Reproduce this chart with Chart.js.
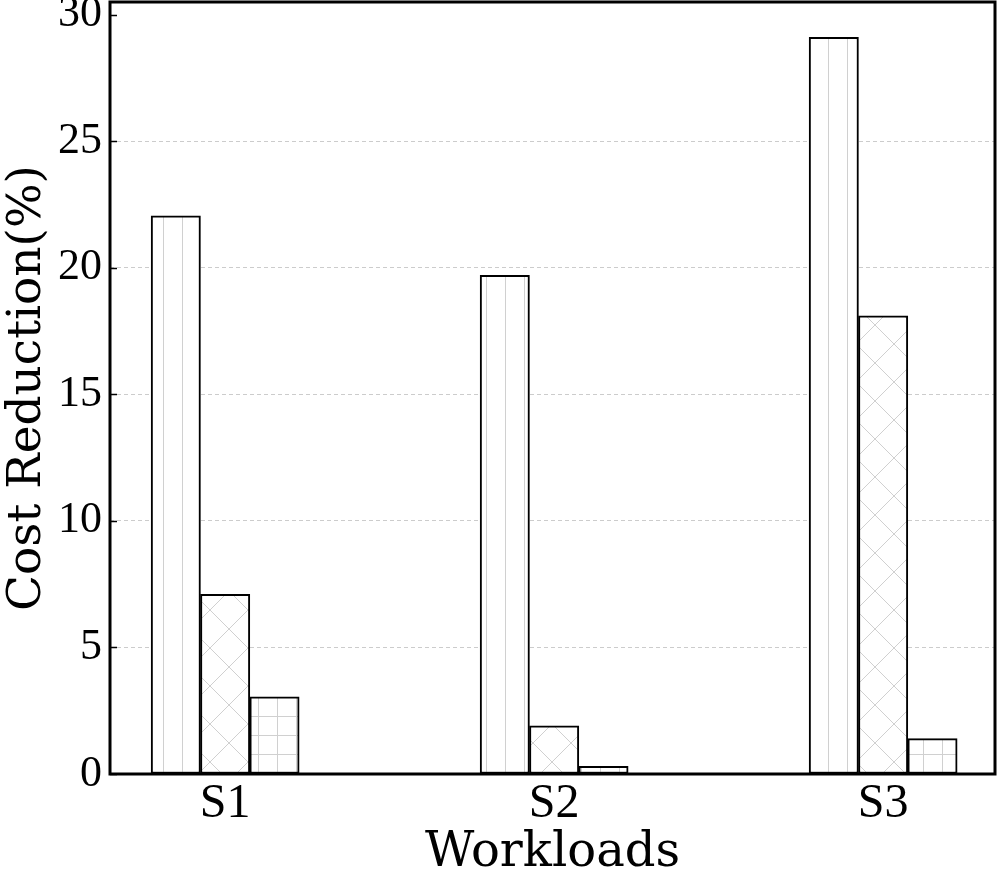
<!DOCTYPE html>
<html>
<head>
<meta charset="utf-8">
<title>Cost Reduction</title>
<script src="https://cdn.jsdelivr.net/npm/chart.js@4.4.1/dist/chart.umd.min.js"></script>
<style>
    html, body { margin: 0; padding: 0; background: #fff; }
    canvas { display: block; }
</style>
</head>
<body>
<canvas id="costChart" width="997" height="882"></canvas>
<script>
// Dados do gráfico
const categories = ['S1', 'S2', 'S3'];
const seriesA = [22.05, 19.7, 29.1];
const seriesB = [7.1, 1.9, 18.1];
const seriesC = [3.05, 0.3, 1.4];
const yTicks = [0, 5, 10, 15, 20, 25, 30];

const HATCH_COLOR = '#d0d0d0';

// Criar padrões de hachura
function makePattern(kind) {
    const size = kind === 'x' ? 38 : 19;
    const c = document.createElement('canvas');
    c.width = size;
    c.height = size;
    const ctx = c.getContext('2d');
    ctx.fillStyle = '#fff';
    ctx.fillRect(0, 0, size, size);
    ctx.strokeStyle = HATCH_COLOR;
    ctx.lineWidth = 1;
    ctx.beginPath();
    if (kind === '|' || kind === '+') {
        ctx.moveTo(0.5, 0);
        ctx.lineTo(0.5, size);
    }
    if (kind === '+') {
        ctx.moveTo(0, 0.5);
        ctx.lineTo(size, 0.5);
    }
    if (kind === 'x') {
        ctx.moveTo(-2, -2);
        ctx.lineTo(size + 2, size + 2);
        ctx.moveTo(-2, size + 2);
        ctx.lineTo(size + 2, -2);
    }
    ctx.stroke();
    const pattern = document.getElementById('costChart').getContext('2d').createPattern(c, 'repeat');
    let m = new DOMMatrix();
    if (kind === '|') m = m.translate(11, 0);
    if (kind === '+') m = m.translate(11, 13);
    if (kind === 'x') m = m.translate(20, 2);
    pattern.setTransform(m);
    return pattern;
}

const offsets = [-0.15, 0, 0.15];
const hatches = ['|', 'x', '+'];

function buildDataset(values, k) {
    return {
        label: 'serie' + (k + 1),
        data: values.map((v, i) => ({ x: i + offsets[k], y: v })),
        backgroundColor: makePattern(hatches[k]),
        borderColor: '#000',
        borderWidth: 2,
        borderSkipped: false,
        grouped: false,
        categoryPercentage: 1,
        barPercentage: 1
    };
}

// Moldura e marcas internas do eixo y
const framePlugin = {
    id: 'frame',
    afterDraw(chart) {
        const { ctx, chartArea: a } = chart;
        const y = chart.scales.y;
        ctx.save();
        ctx.strokeStyle = '#000';
        ctx.lineWidth = 1.5;
        ctx.beginPath();
        yTicks.forEach(t => {
            const py = Math.round(y.getPixelForValue(t)) + 0.5;
            ctx.moveTo(a.left, py);
            ctx.lineTo(a.left + 7, py);
        });
        ctx.stroke();
        ctx.lineWidth = 3;
        ctx.strokeRect(a.left, a.top, a.right - a.left, a.bottom - a.top);
        ctx.restore();
    }
};

const serif = "Liberation Serif";
const titleFont = "DejaVu Serif";

new Chart(document.getElementById('costChart'), {
    type: 'bar',
    data: {
        datasets: [
            buildDataset(seriesA, 0),
            buildDataset(seriesB, 1),
            buildDataset(seriesC, 2)
        ]
    },
    options: {
        responsive: false,
        animation: false,
        maintainAspectRatio: false,
        layout: { padding: { top: 2, right: 2, left: 0, bottom: 0 } },
        plugins: {
            legend: { display: false },
            tooltip: { enabled: false }
        },
        scales: {
            x: {
                type: 'linear',
                offset: false,
                min: -0.35,
                max: 2.34,
                afterBuildTicks: s => { s.ticks = categories.map((c, i) => ({ value: i })); },
                afterFit: s => { s.height = 108; s.paddingLeft = 0; s.paddingRight = 0; },
                grid: { display: false, drawTicks: false, offset: false },
                border: { display: false },
                ticks: {
                    padding: 2,
                    color: '#000',
                    font: { family: serif, size: 48 },
                    callback: v => categories[v]
                },
                title: {
                    display: true,
                    text: 'Workloads',
                    color: '#000',
                    font: { family: titleFont, size: 48 },
                    padding: { top: -6, bottom: 0 }
                }
            },
            y: {
                min: 0,
                max: 30.5,
                afterBuildTicks: s => { s.ticks = yTicks.map(v => ({ value: v })); },
                afterFit: s => { s.width = 110; s.paddingTop = 0; s.paddingBottom = 0; },
                grid: {
                    drawTicks: false,
                    color: ctx => (ctx.tick && ctx.tick.value > 0 && ctx.tick.value < 30) ? '#cccccc' : 'rgba(0,0,0,0)',
                    lineWidth: 1
                },
                border: { display: false, dash: [4, 3] },
                ticks: {
                    padding: 8,
                    color: '#000',
                    font: { family: serif, size: 44 }
                },
                title: {
                    display: true,
                    text: 'Cost Reduction(%)',
                    color: '#000',
                    font: { family: titleFont, size: 47 },
                    padding: { top: 0, bottom: 0 }
                }
            }
        }
    },
    plugins: [framePlugin]
});
</script>
</body>
</html>
